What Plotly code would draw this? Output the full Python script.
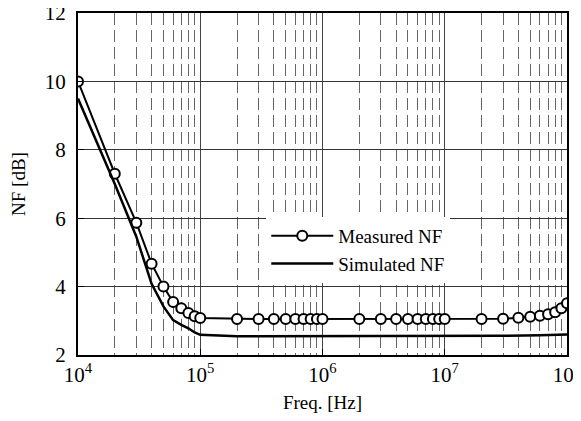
import plotly.graph_objects as go

# Measured NF data
meas_freq = [1e4, 2e4, 3e4, 4e4, 5e4, 6e4, 7e4, 8e4, 9e4, 1e5,
             2e5, 3e5, 4e5, 5e5, 6e5, 7e5, 8e5, 9e5, 1e6,
             2e6, 3e6, 4e6, 5e6, 6e6, 7e6, 8e6, 9e6, 1e7,
             2e7, 3e7, 4e7, 5e7, 6e7, 7e7, 8e7, 9e7, 1e8]
meas_nf = [10.0, 7.3, 5.87, 4.67, 4.0, 3.55, 3.37, 3.23, 3.13, 3.08,
           3.05, 3.05, 3.05, 3.05, 3.05, 3.05, 3.05, 3.05, 3.05,
           3.05, 3.05, 3.05, 3.05, 3.05, 3.05, 3.05, 3.05, 3.05,
           3.05, 3.06, 3.09, 3.12, 3.15, 3.19, 3.25, 3.37, 3.51]

# Simulated NF data
sim_freq = [1e4, 2e4, 3e4, 4e4, 5e4, 6e4, 7e4, 8e4, 9e4, 1e5,
            2e5, 1e6, 1e7, 3e7, 6e7, 1e8]
sim_nf = [9.5, 7.0, 5.46, 4.08, 3.42, 3.02, 2.88, 2.78, 2.66, 2.59,
          2.55, 2.55, 2.55, 2.56, 2.58, 2.6]

x_major = [1e4, 1e5, 1e6, 1e7, 1e8]
x_major_text = ["10<sup>4</sup>", "10<sup>5</sup>", "10<sup>6</sup>", "10<sup>7</sup>", "10<sup>8</sup>"]
x_minor = [m * d for d in [1e4, 1e5, 1e6, 1e7] for m in range(2, 10)]
y_ticks = [2, 4, 6, 8, 10, 12]

FONT = "Liberation Serif"

fig = go.Figure()
fig.add_trace(go.Scatter(
    x=meas_freq, y=meas_nf, mode="lines+markers", name="Measured NF",
    line=dict(color="black", width=2),
    marker=dict(symbol="circle", size=10, color="white",
                line=dict(color="black", width=2)),
))
fig.add_trace(go.Scatter(
    x=sim_freq, y=sim_nf, mode="lines", name="Simulated NF",
    line=dict(color="black", width=2.5),
))

fig.update_layout(
    width=573, height=405,
    margin=dict(l=70, r=14, t=5, b=58, autoexpand=False),
    paper_bgcolor="white", plot_bgcolor="white",
    font=dict(family=FONT, size=19, color="black"),
    showlegend=True,
    legend=dict(x=0.385, y=0.404, xanchor="left", yanchor="top",
                bgcolor="white", borderwidth=0, itemwidth=62,
                font=dict(family=FONT, size=19), tracegroupgap=0),
    xaxis=dict(
        type="log", range=[4, 8], automargin=False,
        tickvals=x_major, ticktext=x_major_text,
        ticks="inside", ticklen=6, tickcolor="black",
        ticklabeloverflow="allow",
        showgrid=True, gridcolor="#444", gridwidth=1,
        showline=True, linecolor="black", linewidth=2, mirror=True,
        minor=dict(tickvals=x_minor, showgrid=True, gridcolor="#666",
                   griddash="12px,5px", gridwidth=1, ticks=""),
        title=dict(text="Freq. [Hz]", font=dict(size=19), standoff=15),
        tickfont=dict(size=21),
        zeroline=False,
    ),
    yaxis=dict(
        range=[2, 12], tickvals=y_ticks, automargin=False,
        ticks="inside", ticklen=6, tickcolor="black",
        ticklabeloverflow="allow",
        showgrid=True, gridcolor="#333", gridwidth=1,
        showline=True, linecolor="black", linewidth=2, mirror=True,
        ticklabelstandoff=6,
        title=dict(text="NF [dB]", font=dict(size=19), standoff=16),
        tickfont=dict(size=21),
        zeroline=False,
    ),
)

fig.write_html("out.html")
